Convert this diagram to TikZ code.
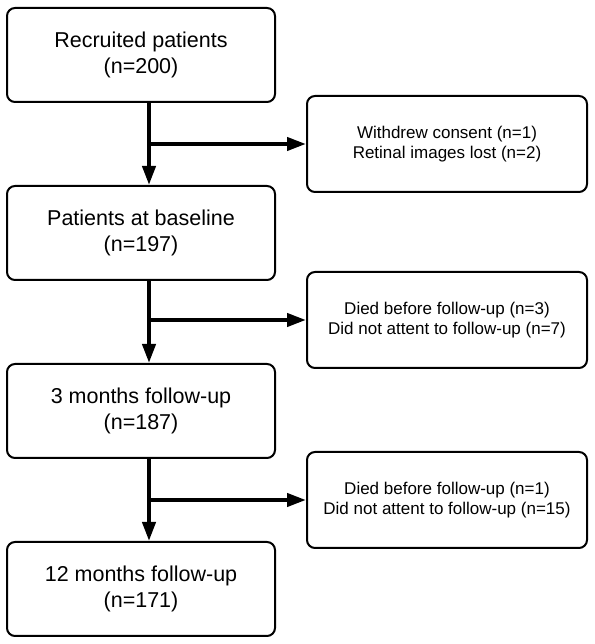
\documentclass[tikz,border=0pt]{standalone}
\usepackage{fontspec}
\setmainfont{Liberation Sans}
\usetikzlibrary{arrows.meta}

\begin{document}
\begin{tikzpicture}[%
  x=1pt, y=1pt,
  stage/.style = {draw, line width=2pt, rounded corners=8pt,
    minimum width=268pt, minimum height=94pt, align=center,
    font=\fontsize{21.5}{26}\selectfont},
  lost/.style = {draw, line width=2pt, rounded corners=8pt,
    minimum width=280pt, minimum height=96pt, align=center,
    font=\fontsize{17}{20}\selectfont},
  flow/.style = {line width=4pt},
  >={Triangle[length=19pt,width=13pt]},
]
  \useasboundingbox (0,0) rectangle (594,644);

  \node[stage] (rec)  at (141,589) {Recruited patients\\(n=200)};
  \node[stage] (base) at (141,411) {Patients at baseline\\(n=197)};
  \node[stage] (m3)   at (141,233) {3 months follow-up\\(n=187)};
  \node[stage] (m12)  at (141,55)  {12 months follow-up\\(n=171)};

  \node[lost] (exA) at (447,500) {Withdrew consent (n=1)\\Retinal images lost (n=2)};
  \node[lost] (exB) at (447,324) {Died before follow-up (n=3)\\Did not attent to follow-up (n=7)};
  \node[lost] (exC) at (447,144) {Died before follow-up (n=1)\\Did not attent to follow-up (n=15)};

  % trunk of the flow, a bit right of the box centres
  \path ([xshift=8pt]rec.south)  coordinate (t1);
  \path ([xshift=8pt]base.south) coordinate (t2);
  \path ([xshift=8pt]m3.south)   coordinate (t3);

  \draw[flow,->] (t1) -- (t1 |- base.north);
  \draw[flow,->] (t2) -- (t2 |- m3.north);
  \draw[flow,->] (t3) -- (t3 |- m12.north);

  \draw[flow,->] (t1 |- exA.west) -- (exA.west);
  \draw[flow,->] (t2 |- exB.west) -- (exB.west);
  \draw[flow,->] (t3 |- exC.west) -- (exC.west);

\end{tikzpicture}
\end{document}
